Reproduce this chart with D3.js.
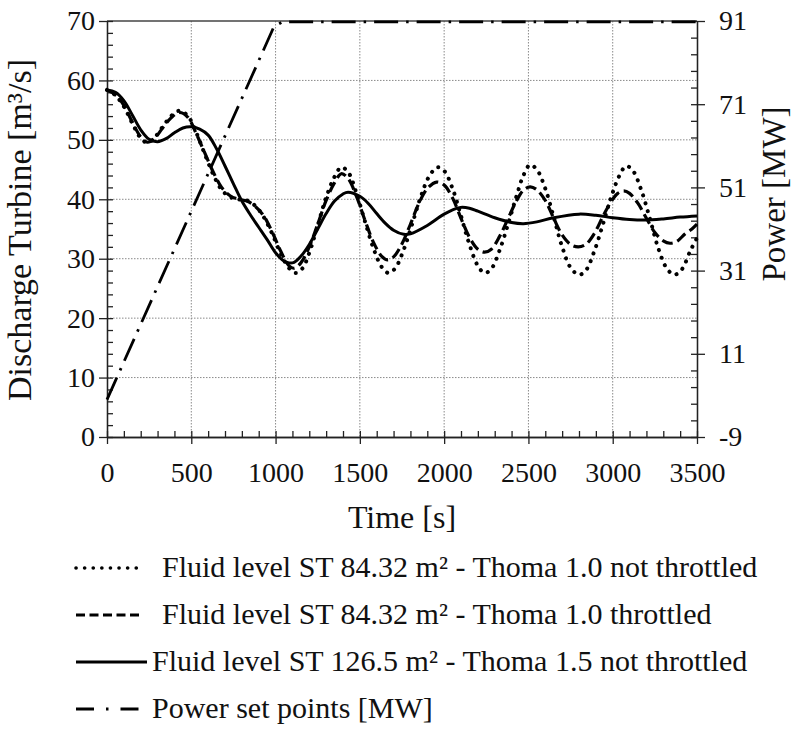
<!DOCTYPE html>
<html>
<head>
<meta charset="utf-8">
<script src="https://cdnjs.cloudflare.com/ajax/libs/d3/7.8.5/d3.min.js"></script>
<style>
  body { margin: 0; background: #fff; }
  svg text { font-family: "Liberation Serif", "Times New Roman", serif; fill: #111; }
</style>
</head>
<body>
<div id="chart"></div>
<script>
// discharge curves (time in s, discharge in m3/s)
var solidTime = [0, 50, 100, 150, 200, 250, 300, 350, 400, 450, 500, 550, 600, 650, 700, 750, 800, 850, 900, 950, 1000, 1050, 1080, 1110, 1150, 1200, 1250, 1300, 1350, 1400, 1430, 1500, 1550, 1600, 1650, 1700, 1760, 1800, 1900, 2000, 2090, 2150, 2200, 2300, 2400, 2470, 2550, 2650, 2800, 2900, 3000, 3100, 3190, 3300, 3400, 3500];
var solidQ = [58.4, 58.0, 56.6, 54.2, 51.7, 50.1, 49.7, 50.2, 51.2, 52.0, 52.2, 51.8, 50.8, 48.5, 45.6, 42.6, 39.7, 37.4, 35.3, 33.2, 31.0, 29.6, 29.3, 29.4, 30.4, 32.4, 35.0, 37.6, 39.7, 40.9, 41.2, 40.5, 39.3, 37.6, 36.0, 34.8, 34.1, 34.2, 35.6, 37.5, 38.6, 38.5, 38.0, 36.9, 36.1, 35.9, 36.2, 36.9, 37.5, 37.3, 36.9, 36.6, 36.5, 36.7, 37.0, 37.2];

var dashTime = [0, 50, 100, 150, 200, 240, 280, 330, 380, 430, 480, 530, 580, 630, 680, 730, 780, 830, 880, 930, 980, 1030, 1080, 1110, 1150, 1200, 1250, 1300, 1350, 1390, 1430, 1480, 1530, 1580, 1630, 1665, 1700, 1750, 1800, 1850, 1900, 1955, 2000, 2050, 2100, 2150, 2200, 2240, 2280, 2330, 2380, 2430, 2470, 2510, 2550, 2600, 2650, 2700, 2750, 2795, 2840, 2890, 2940, 2990, 3030, 3065, 3100, 3150, 3200, 3250, 3300, 3340, 3380, 3430, 3470, 3500];
var dashQ = [58.4, 57.6, 55.8, 53.0, 50.5, 49.6, 50.2, 52.0, 53.7, 54.6, 53.8, 51.0, 47.8, 44.6, 42.0, 40.6, 40.0, 39.7, 38.8, 37.2, 34.5, 31.3, 28.8, 28.4, 29.3, 32.0, 35.8, 39.8, 42.8, 44.3, 43.5, 40.5, 36.5, 32.8, 30.4, 29.8, 30.3, 32.5, 35.8, 39.3, 41.8, 42.9, 42.4, 40.2, 36.8, 33.6, 31.6, 31.1, 31.6, 33.8, 36.8, 39.8, 41.5, 42.1, 41.6, 39.8, 36.8, 34.0, 32.4, 32.0, 32.4, 34.2, 37.0, 39.6, 41.0, 41.4, 41.0, 39.3, 36.8, 34.4, 33.0, 32.6, 32.9, 34.2, 35.0, 35.8];

var dotTime = [0, 50, 100, 150, 200, 240, 280, 330, 380, 430, 480, 530, 580, 630, 680, 730, 780, 830, 880, 930, 980, 1030, 1080, 1120, 1160, 1200, 1250, 1300, 1350, 1390, 1430, 1480, 1530, 1580, 1630, 1670, 1710, 1760, 1810, 1860, 1910, 1960, 2000, 2050, 2100, 2150, 2200, 2240, 2280, 2330, 2380, 2430, 2470, 2510, 2550, 2600, 2650, 2700, 2750, 2800, 2840, 2890, 2940, 2990, 3040, 3080, 3120, 3170, 3220, 3270, 3320, 3365, 3410, 3460, 3500];
var dotQ = [58.4, 57.5, 55.6, 52.8, 50.3, 49.5, 50.3, 52.2, 54.0, 54.9, 54.0, 51.2, 47.6, 44.2, 41.6, 40.4, 40.0, 39.8, 38.9, 37.0, 34.2, 30.9, 28.4, 27.6, 28.4, 31.0, 35.6, 40.3, 43.8, 45.4, 44.6, 41.0, 36.3, 31.8, 28.6, 27.6, 28.4, 31.5, 35.8, 40.3, 43.8, 45.4, 44.8, 41.8, 37.2, 32.4, 28.8, 27.6, 28.3, 31.5, 35.9, 40.6, 44.0, 45.8, 45.0, 41.8, 37.0, 32.0, 28.5, 27.3, 28.0, 31.2, 35.6, 40.3, 44.0, 45.6, 44.8, 41.5, 36.8, 31.8, 28.4, 27.3, 28.2, 31.3, 33.5];

// power set points in MW (right axis)
var powerTime = [0, 990, 1040, 3500];
var powerMW = [0, 89.6, 90.8, 90.8];

var xMajor = [0, 500, 1000, 1500, 2000, 2500, 3000, 3500];
var yMajor = [0, 10, 20, 30, 40, 50, 60, 70];
var y2Major = [-9, 11, 31, 51, 71, 91];

var legendLabels = [
    "Fluid level ST 84.32 m\u00b2 - Thoma 1.0 not throttled",
    "Fluid level ST 84.32 m\u00b2 - Thoma 1.0 throttled",
    "Fluid level ST 126.5 m\u00b2 - Thoma 1.5 not throttled",
    "Power set points [MW]"
];

const margin = { left: 107, right: 100, top: 21, bottom: 294 };
const W = 797, H = 731;
const width = W - margin.left - margin.right;
const height = H - margin.top - margin.bottom;

const svg = d3.select("#chart").append("svg")
    .attr("width", W)
    .attr("height", H);

const g = svg.append("g")
    .attr("transform", `translate(${margin.left}, ${margin.top})`);

const x = d3.scaleLinear().domain([0, 3500]).range([0, width]);
const y = d3.scaleLinear().domain([0, 70]).range([height, 0]);
const y2 = d3.scaleLinear().domain([-9, 91]).range([height, 0]);

// grid
g.selectAll(".vgrid")
    .data(xMajor.slice(1, -1))
    .join("line")
    .attr("x1", d => x(d)).attr("x2", d => x(d))
    .attr("y1", 0).attr("y2", height)
    .attr("stroke", "#8a8a8a")
    .attr("stroke-dasharray", "1.5,1.5");

g.selectAll(".hgrid")
    .data(yMajor.slice(1, -1))
    .join("line")
    .attr("y1", d => y(d)).attr("y2", d => y(d))
    .attr("x1", 0).attr("x2", width)
    .attr("stroke", "#8a8a8a")
    .attr("stroke-dasharray", "1.5,1.5");

// top frame
g.append("line")
    .attr("x1", 0).attr("x2", width)
    .attr("y1", 0).attr("y2", 0)
    .attr("stroke", "#444").attr("stroke-width", 1.5);

function styleAxis(sel) {
    sel.selectAll("path, line").attr("stroke", "#222").attr("stroke-width", 1.3);
    sel.selectAll("text").attr("font-size", "28px").style("font-family", '"Liberation Serif", serif');
}

// minor ticks, inward
g.append("g")
    .attr("transform", `translate(0, ${height})`)
    .call(d3.axisBottom(x).tickValues(d3.range(0, 3501, 100)).tickSize(-6).tickFormat("").tickSizeOuter(0))
    .call(styleAxis);
g.append("g")
    .call(d3.axisLeft(y).tickValues(d3.range(0, 71, 2)).tickSize(-6).tickFormat("").tickSizeOuter(0))
    .call(styleAxis);
g.append("g")
    .attr("transform", `translate(${width}, 0)`)
    .call(d3.axisRight(y2).tickValues(d3.range(-9, 92, 4)).tickSize(-6).tickFormat("").tickSizeOuter(0))
    .call(styleAxis);

// major ticks, outward with labels
g.append("g")
    .attr("transform", `translate(0, ${height})`)
    .call(d3.axisBottom(x).tickValues(xMajor).tickSize(7).tickPadding(18).tickFormat(d3.format("d")).tickSizeOuter(0))
    .call(styleAxis);
g.append("g")
    .call(d3.axisLeft(y).tickValues(yMajor).tickSize(8).tickPadding(4).tickSizeOuter(0))
    .call(styleAxis);
g.append("g")
    .attr("transform", `translate(${width}, 0)`)
    .call(d3.axisRight(y2).tickValues(y2Major).tickSize(8).tickPadding(14).tickFormat(d => String(d)).tickSizeOuter(0))
    .call(styleAxis);

// lines
const lineQ = d3.line()
    .x(d => x(d[0]))
    .y(d => y(d[1]))
    .curve(d3.curveCatmullRom.alpha(0.5));

const series = [
    { t: dotTime, v: dotQ, dash: "0.1,8", w: 4, cap: "round" },
    { t: dashTime, v: dashQ, dash: "11,5", w: 3.2, cap: "butt" },
    { t: solidTime, v: solidQ, dash: null, w: 3, cap: "butt" }
];

series.forEach(s => {
    g.append("path")
        .datum(d3.zip(s.t, s.v))
        .attr("fill", "none")
        .attr("stroke", "#000")
        .attr("stroke-width", s.w)
        .attr("stroke-linecap", s.cap)
        .attr("stroke-dasharray", s.dash)
        .attr("d", lineQ);
});

const linePow = d3.line()
    .x(d => x(d[0]))
    .y(d => y2(d[1]));

g.append("path")
    .datum(d3.zip(powerTime, powerMW))
    .attr("fill", "none")
    .attr("stroke", "#000")
    .attr("stroke-width", 2.8)
    .attr("stroke-dasharray", "24,8,2.5,8")
    .attr("d", linePow);

// axis titles
svg.append("text")
    .attr("x", margin.left + width / 2)
    .attr("y", 528)
    .attr("text-anchor", "middle")
    .attr("font-size", "32px")
    .text("Time [s]");

svg.append("text")
    .attr("transform", "translate(31, 230) rotate(-90)")
    .attr("text-anchor", "middle")
    .attr("font-size", "34px")
    .text("Discharge Turbine [m\u00b3/s]");

svg.append("text")
    .attr("transform", "translate(785, 194) rotate(-90)")
    .attr("text-anchor", "middle")
    .attr("font-size", "33px")
    .text("Power [MW]");

// legend
const legendDash = ["0.1,8.5", "9,4.5", null, "18,12,2.5,12"];
const legendCap = ["round", "butt", "butt", "butt"];
const legendLen = [68, 63, 71, 68];
const legendTextX = [162, 162, 152, 152];

legendLabels.forEach((label, i) => {
    const ly = 568 + i * 47;
    svg.append("line")
        .attr("x1", 76).attr("x2", 76 + legendLen[i])
        .attr("y1", ly).attr("y2", ly)
        .attr("stroke", "#000")
        .attr("stroke-width", i === 0 ? 3.6 : 3)
        .attr("stroke-linecap", legendCap[i])
        .attr("stroke-dasharray", legendDash[i]);
    svg.append("text")
        .attr("x", legendTextX[i])
        .attr("y", ly + 9)
        .attr("font-size", "30px")
        .text(label);
});
</script>
</body>
</html>
